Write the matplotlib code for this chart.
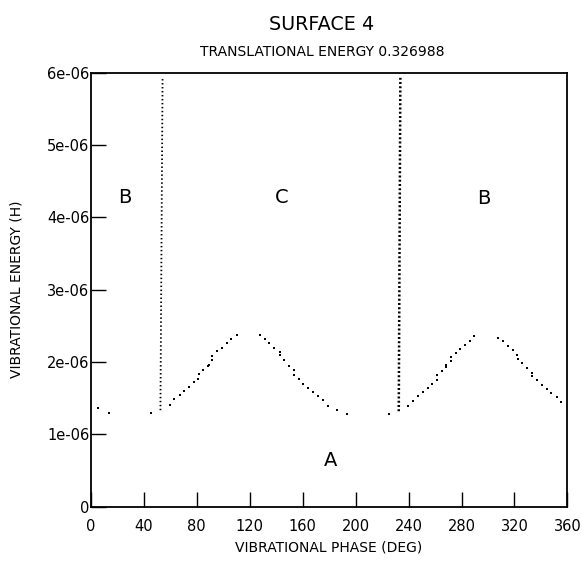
# -*- coding: utf-8 -*-
import numpy as np
import matplotlib
matplotlib.use('Agg')
import matplotlib.pyplot as plt
from matplotlib import rc
rc('font', **{'family': 'sans-serif', 'sans-serif': ['DejaVu Sans'], 'size': 10})

# vibrational phase (deg) / vibrational energy (1e-06 H)
phaseB1 = [5.5, 13.6, 45.8]
eB1 = [1.366, 1.297, 1.302]

phaseUp1 = [59.9, 63.1, 67.4, 70.5, 74.3, 78.1, 81.3, 81.6, 84.8, 88.6, 89.1,
            91.8, 91.8, 95.6, 99.2, 102.7, 106.0, 110.5]
eUp1 = [1.412, 1.490, 1.541, 1.596, 1.655, 1.720, 1.771, 1.830, 1.895, 1.945,
        1.964, 2.033, 2.088, 2.148, 2.193, 2.258, 2.317, 2.378]

phaseDn1 = [127.9, 131.6, 134.9, 138.4, 143.0, 143.0, 146.2, 149.5, 153.8,
            153.8, 157.3, 160.6, 164.4, 168.1, 171.5, 175.2, 179.0, 186.0, 193.4]
eDn1 = [2.378, 2.317, 2.262, 2.193, 2.138, 2.092, 2.028, 1.945, 1.886, 1.817,
        1.761, 1.702, 1.641, 1.586, 1.527, 1.472, 1.399, 1.343, 1.278]

phaseB2 = [225.3]
eB2 = [1.288]

phaseUp2 = [239.9, 243.7, 247.2, 250.8, 254.5, 257.8, 261.3, 261.6, 265.1,
            268.4, 268.6, 271.9, 272.1, 275.7, 279.2, 282.7, 286.5, 289.7]
eUp2 = [1.393, 1.468, 1.527, 1.582, 1.641, 1.702, 1.757, 1.817, 1.876, 1.931,
        1.954, 2.010, 2.065, 2.120, 2.175, 2.240, 2.295, 2.354]

phaseDn2 = [307.9, 311.6, 315.4, 318.7, 322.2, 322.7, 326.0, 329.8, 333.3,
            333.3, 336.9, 340.6, 344.4, 347.9, 351.9, 355.2]
eDn2 = [2.331, 2.286, 2.221, 2.161, 2.102, 2.047, 1.986, 1.923, 1.854, 1.803,
        1.748, 1.688, 1.633, 1.572, 1.513, 1.448]

# near-vertical runs of densely spaced points (bottom, top)
spike1Phase = [52.6, 54.2]
spike1E = [1.334, 5.93]
spike2Phase = [232.6, 233.8]
spike2E = [1.32, 5.93]

regionLabels = ['B', 'C', 'B', 'A']
regionPhase = [26.0, 144.5, 297.0, 181.2]
regionE = [4.27, 4.27, 4.26, 0.64]

xticks = [0, 40, 80, 120, 160, 200, 240, 280, 320, 360]
yticks = [0, 1, 2, 3, 4, 5, 6]
yticklabels = ['0', '1e-06', '2e-06', '3e-06', '4e-06', '5e-06', '6e-06']

scale = 1e-6

fig = plt.figure(figsize=(5.82, 5.61), dpi=100)
axe = fig.add_axes([0.156, 0.0968, 0.819, 0.7735])

for px, py in [(phaseB1, eB1), (phaseUp1, eUp1), (phaseDn1, eDn1),
               (phaseB2, eB2), (phaseUp2, eUp2), (phaseDn2, eDn2)]:
    axe.plot(px, np.array(py) * scale, linestyle='none', marker='s',
             markersize=2.0, color='black', markeredgewidth=0)

axe.plot(spike1Phase, np.array(spike1E) * scale, color='black',
         linestyle=(0, (0.8, 1.4)), linewidth=1.3)
axe.plot(spike2Phase, np.array(spike2E) * scale, color='black',
         linestyle=(0, (0.8, 0.9)), linewidth=1.8)

for lab, px, py in zip(regionLabels, regionPhase, regionE):
    axe.text(px, py * scale, lab, fontsize=14, ha='center', va='center')

axe.set_xlim(0, 360)
axe.set_ylim(0, 6 * scale)
axe.set_xticks(xticks)
axe.set_yticks(np.array(yticks) * scale)
axe.set_yticklabels(yticklabels)
axe.tick_params(axis='both', direction='in', length=10.5, width=1.0,
                labelsize=10.5)
axe.tick_params(axis='x', pad=8.5)
axe.tick_params(axis='y', pad=1)
for sp in axe.spines.values():
    sp.set_linewidth(1.3)

axe.set_xlabel('VIBRATIONAL PHASE (DEG)', fontsize=10, labelpad=5)
axe.set_ylabel('VIBRATIONAL ENERGY (H)', fontsize=10, labelpad=17)

fig.text(322 / 582, 1 - 24 / 561, 'SURFACE 4', fontsize=13.8,
         ha='center', va='center')
fig.text(322 / 582, 1 - 51.5 / 561, 'TRANSLATIONAL ENERGY 0.326988',
         fontsize=10, ha='center', va='center')

plt.savefig('out.png', dpi=100)
